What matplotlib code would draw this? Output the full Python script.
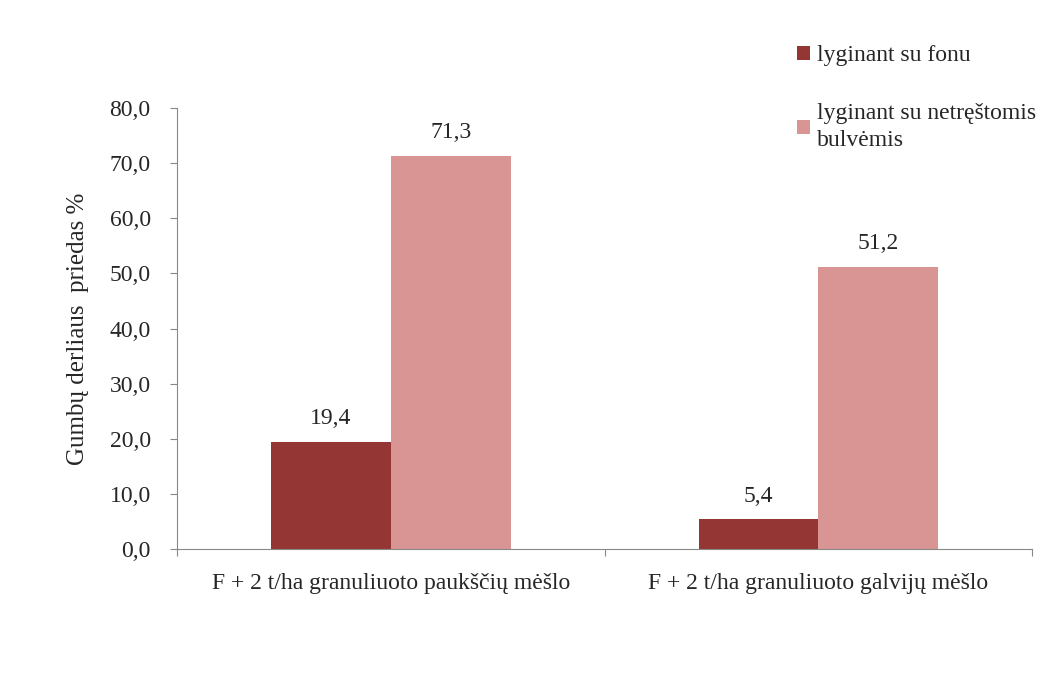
import numpy as np
import matplotlib.pyplot as plt
from matplotlib.patches import Patch

plt.rcParams["font.family"] = ["Liberation Serif", "DejaVu Serif"]
plt.rcParams["font.size"] = 17

categories = [
    "F + 2 t/ha granuliuoto paukščių mėšlo",
    "F + 2 t/ha granuliuoto galvijų mėšlo",
]
series_labels = ["lyginant su fonu", "lyginant su netręštomis\nbulvėmis"]
vs_background = [19.4, 5.4]
vs_unfertilized = [71.3, 51.2]
colors = ["#943634", "#D99594"]
text_color = "#262626"

fig = plt.figure(figsize=(10.48, 6.91), dpi=100)
ax = fig.add_axes([0.169, 0.2055, 0.816, 0.638])

x = np.arange(len(categories))
w = 0.28
b1 = ax.bar(x - w / 2, vs_background, w, color=colors[0])
b2 = ax.bar(x + w / 2, vs_unfertilized, w, color=colors[1])

for bars, vals in [(b1, vs_background), (b2, vs_unfertilized)]:
    for bar, v in zip(bars, vals):
        ax.text(bar.get_x() + bar.get_width() / 2, v + 2.3,
                "{:.1f}".format(v).replace(".", ","),
                ha="center", va="bottom", color=text_color)

ax.set_xlim(-0.5, len(categories) - 0.5)
ax.set_ylim(0, 80)
ax.set_yticks(np.arange(0, 81, 10))
ax.set_yticklabels(["{:.1f}".format(t).replace(".", ",") for t in np.arange(0, 81, 10)])

# category boundary ticks on the x axis, labels centred between them
ax.set_xticks(np.arange(-0.5, len(categories), 1.0))
ax.set_xticklabels([])
ax.set_xticks(x, minor=True)
ax.set_xticklabels(categories, minor=True)
ax.tick_params(axis="x", which="minor", length=0, pad=17, labelcolor=text_color)
ax.tick_params(axis="x", which="major", length=5, color="#888888")
ax.tick_params(axis="y", length=5, color="#888888", pad=14, labelcolor=text_color)

for s in ["top", "right"]:
    ax.spines[s].set_visible(False)
for s in ["left", "bottom"]:
    ax.spines[s].set_color("#888888")

ax.set_ylabel("Gumbų derliaus  priedas %", fontsize=18, labelpad=15, color=text_color)

handles = [Patch(facecolor=c, edgecolor="none") for c in colors]
leg = fig.legend(handles, series_labels, loc="upper left", bbox_to_anchor=(0.74, 0.965),
                 frameon=False, handlelength=0.55, handleheight=0.55, handletextpad=0.3,
                 labelspacing=1.55, fontsize=17)
for t in leg.get_texts():
    t.set_color(text_color)
    t.set_linespacing(1.4)

fig.savefig("out.png", dpi=100)
